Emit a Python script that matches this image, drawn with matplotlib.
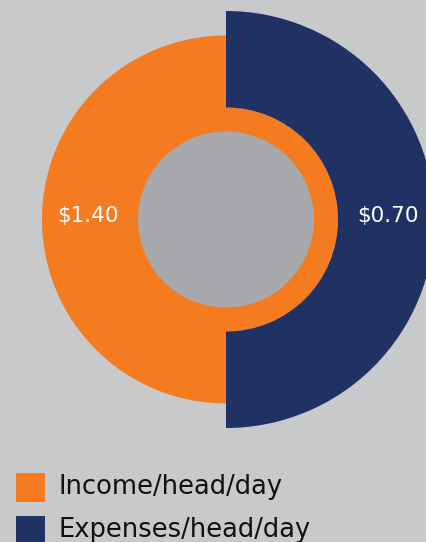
import matplotlib
matplotlib.use('Agg')
import matplotlib.pyplot as plt
from matplotlib.patches import Wedge, Circle, Rectangle

series = ['Income/head/day', 'Expenses/head/day']
values = [1.40, 0.70]
colors = ['#f47b20', '#1f3263']

bg = '#c8c9cb'
hole = '#a7a9ac'

fig = plt.figure(figsize=(4.27, 5.42), dpi=100, facecolor=bg)
ax = fig.add_axes([0, 0, 1, 1])
ax.set_xlim(0, 427)
ax.set_ylim(542, 0)
ax.set_aspect('equal')
ax.axis('off')
ax.set_facecolor(bg)

cx, cy = 226, 219.5

# income: left half disc + thin full ring round the hole
ax.add_patch(Wedge((cx, cy), 184, 90, 270, color=colors[0], lw=0))
ax.add_patch(Circle((cx, cy), 112, color=colors[0], lw=0))
# expenses: right half ring, wider
ax.add_patch(Wedge((cx, cy), 208.5, -90, 90, width=208.5 - 112, color=colors[1], lw=0))
ax.add_patch(Circle((cx, cy), 88, color=hole, lw=0))

ax.text(88, 216, f'${values[0]:.2f}', color='white', fontsize=15.5,
        ha='center', va='center')
ax.text(388, 216, f'${values[1]:.2f}', color='white', fontsize=15.5,
        ha='center', va='center')

for i, name in enumerate(series):
    y0 = 473 + i * 43
    ax.add_patch(Rectangle((16, y0), 29, 29, color=colors[i], lw=0))
    ax.text(59, y0 + 14, name, color='#111111', fontsize=18.5,
            ha='left', va='center')

fig.savefig('out.png', dpi=100, facecolor=bg)
